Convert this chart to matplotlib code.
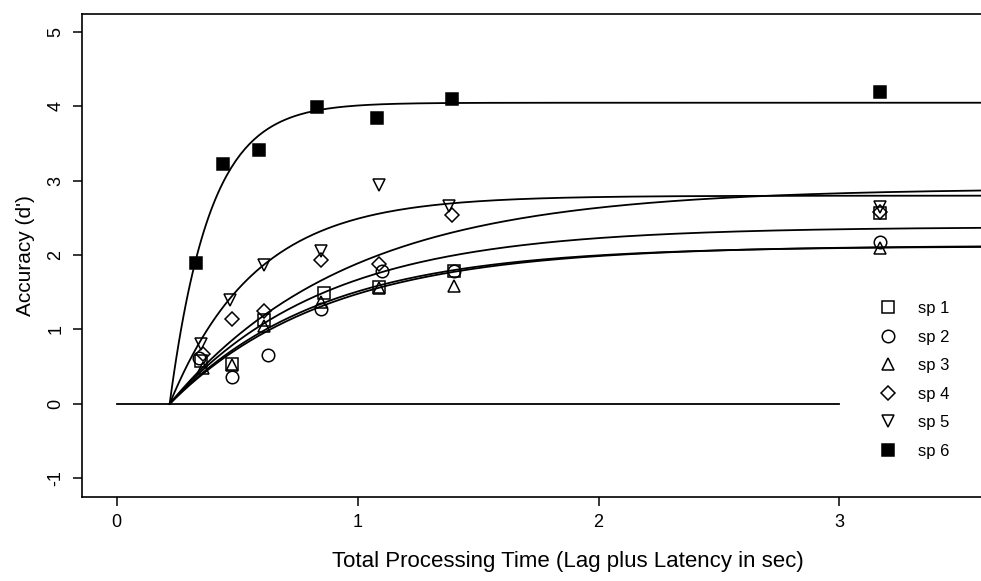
import numpy as np
import matplotlib.pyplot as plt

plt.rcParams['font.family'] = ['Liberation Sans', 'DejaVu Sans']
plt.rcParams['axes.unicode_minus'] = False

# observed accuracy (d') per speaker against total processing time (s)
sp1_t = [0.35, 0.48, 0.61, 0.86, 1.09, 1.40, 3.17]
sp1_d = [0.58, 0.54, 1.13, 1.49, 1.57, 1.79, 2.57]
sp2_t = [0.34, 0.48, 0.63, 0.85, 1.10, 1.40, 3.17]
sp2_d = [0.62, 0.36, 0.66, 1.28, 1.78, 1.78, 2.18]
sp3_t = [0.36, 0.48, 0.61, 0.85, 1.09, 1.40, 3.17]
sp3_d = [0.48, 0.52, 1.05, 1.37, 1.56, 1.58, 2.10]
sp4_t = [0.36, 0.48, 0.61, 0.85, 1.09, 1.39, 3.17]
sp4_d = [0.67, 1.14, 1.25, 1.93, 1.88, 2.54, 2.58]
sp5_t = [0.35, 0.47, 0.61, 0.85, 1.09, 1.38, 3.17]
sp5_d = [0.81, 1.40, 1.87, 2.06, 2.95, 2.66, 2.65]
sp6_t = [0.33, 0.44, 0.59, 0.83, 1.08, 1.39, 3.17]
sp6_d = [1.90, 3.23, 3.42, 3.99, 3.84, 4.10, 4.19]

labels = ['sp 1', 'sp 2', 'sp 3', 'sp 4', 'sp 5', 'sp 6']
times = [sp1_t, sp2_t, sp3_t, sp4_t, sp5_t, sp6_t]
dprimes = [sp1_d, sp2_d, sp3_d, sp4_d, sp5_d, sp6_d]

# exponential approach to a limit: d' = lam * (1 - exp(-beta * (t - delta)))
lam = [2.38, 2.12, 2.13, 2.90, 2.80, 4.05]
beta = [1.55, 1.60, 1.52, 1.35, 2.82, 6.0]
delta = [0.22, 0.22, 0.22, 0.22, 0.22, 0.22]

markers = ['s', 'o', '^', 'D', 'v', 's']
msizes = [9, 9, 9, 7, 9, 9]
fills = ['none', 'none', 'none', 'none', 'none', 'black']

fig = plt.figure(figsize=(9.81, 5.81), dpi=100)
# the frame runs on past the right edge of the figure
ax = fig.add_axes([0.0833, 0.1446, 0.991, 0.832])

tt = np.linspace(0.22, 4.0, 400)
for l, b, d in zip(lam, beta, delta):
    ax.plot(tt, l * (1 - np.exp(-b * (tt - d))), color='black', lw=1.3)

ax.plot([0, 3], [0, 0], color='black', lw=1.3)

handles = []
for t, dp, m, ms, fc, lab in zip(times, dprimes, markers, msizes, fills, labels):
    h, = ax.plot(t, dp, linestyle='none', marker=m, ms=ms, mfc=fc,
                 mec='black', mew=1.1, label=lab)
    handles.append(h)

ax.legend(handles=handles, loc='upper left', bbox_to_anchor=(0.8815, 0.5077),
          bbox_transform=fig.transFigure, frameon=False, fontsize=12,
          labelspacing=0.81, handlelength=1.0, handletextpad=1.3)

ax.set_xlim(-0.145, 3.89)
ax.set_ylim(-1.253, 5.249)
ax.set_xticks([0, 1, 2, 3])
ax.set_yticks([-1, 0, 1, 2, 3, 4, 5])
ax.tick_params(direction='out', length=6.5, width=1.1, labelsize=13, pad=6)
for lab in ax.get_yticklabels():
    lab.set_rotation(90)
    lab.set_va('center')
for s in ['left', 'bottom', 'top', 'right']:
    ax.spines[s].set_linewidth(1.2)

ax.set_xlabel('Total Processing Time (Lag plus Latency in sec)', fontsize=16, labelpad=14)
ax.set_ylabel("Accuracy (d')", fontsize=15, labelpad=9)

fig.savefig('out.png', dpi=100)
